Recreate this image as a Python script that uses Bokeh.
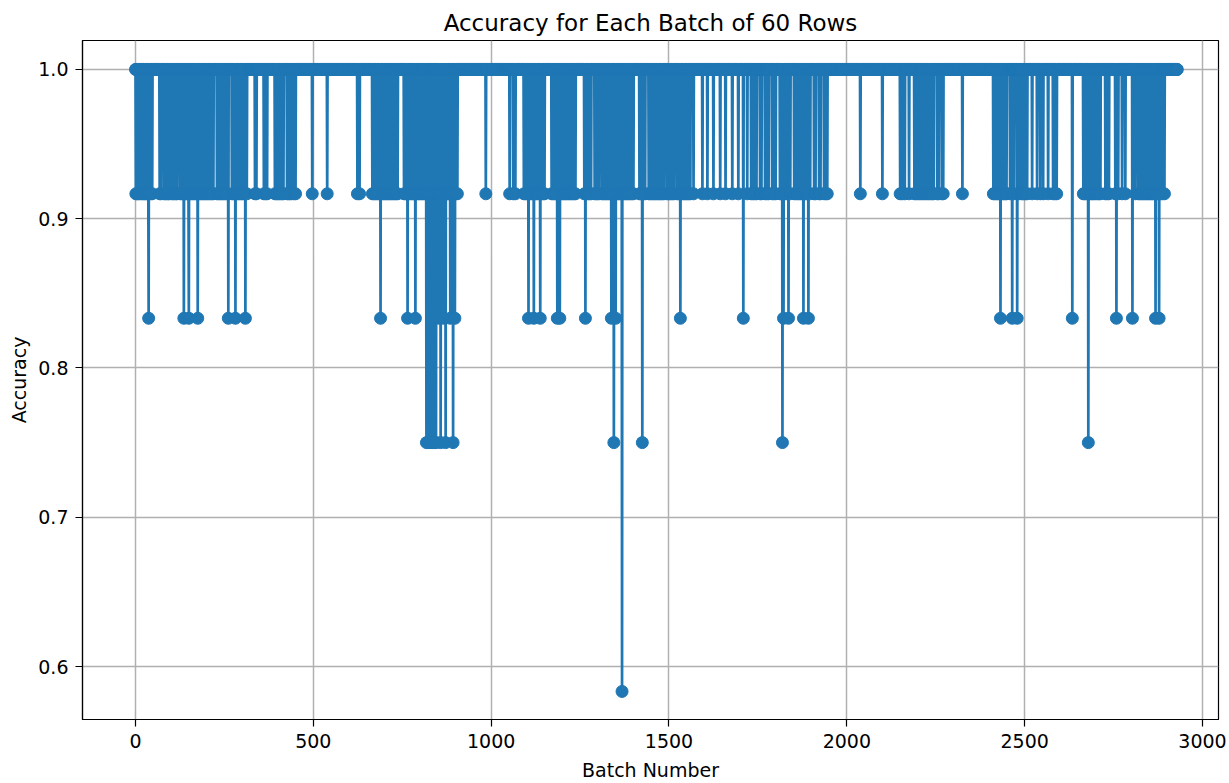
import numpy as np
from bokeh.plotting import figure
from bokeh.models import Range1d, FixedTicker, PrintfTickFormatter, ColumnDataSource
from bokeh.embed import file_html
from bokeh.resources import INLINE

# ---------------- data ----------------
n_batches = 2930
level_values = [0.9167, 0.8333, 0.75, 0.5833]

dips_0917 = [
    1, 4, 8, 11, 17, 21, 25, 28, 32, 36, 43, 47, 68, 72, 80, 84, 88, 92, 95, 102, 106, 110, 114, 117,
    125, 129, 133, 140, 143, 149, 153, 157, 161, 165, 169, 173, 179, 183, 187, 191, 195, 199, 203, 207, 211,
    215, 219, 229, 233, 237, 241, 245, 249, 253, 257, 271, 275, 279, 285, 289, 293, 297, 301, 305, 313,
    336, 340, 361, 366, 370, 392, 396, 400, 404, 408, 412, 416, 426, 430, 434, 438, 445, 450,
    497, 539, 624, 630, 666, 670, 674, 678, 682, 686, 693, 697, 701, 705, 709, 713, 717, 721, 725, 729,
    733, 737, 755, 759, 763, 769, 773, 777, 781, 784, 791, 795, 799, 803, 807, 811, 815, 820, 825, 831,
    837, 842, 848, 850, 855, 861, 863, 869, 875, 878, 882, 888, 890, 895, 900, 905,
    985, 1052, 1062, 1068, 1092, 1096, 1100, 1110, 1114, 1124, 1128, 1132, 1142, 1146, 1150, 1170, 1174,
    1178, 1182, 1197, 1201, 1205, 1209, 1213, 1217, 1221,
    1225, 1229, 1233, 1237, 1262, 1269, 1273, 1277, 1281, 1291, 1295, 1299, 1303, 1311, 1315, 1319, 1323,
    1327, 1331, 1335, 1342, 1355, 1359, 1363, 1372, 1376, 1380, 1384, 1388, 1392, 1396, 1400, 1417, 1421,
    1429, 1433, 1443, 1447, 1451, 1455, 1459, 1463, 1467, 1471, 1475,
    1478, 1482, 1486, 1494, 1498, 1502, 1506, 1510, 1514, 1522, 1526, 1530, 1536, 1540, 1544, 1548, 1552,
    1556, 1560, 1569, 1594, 1608, 1625, 1644, 1659, 1678, 1695, 1720,
    1731, 1736, 1741, 1746, 1756, 1760, 1770, 1775, 1780, 1790, 1795, 1800, 1812, 1816, 1826, 1831, 1841,
    1852, 1857, 1862, 1867, 1871, 1883, 1887, 1897, 1908, 1912, 1922, 1926, 1936, 1941, 1945,
    2038, 2100, 2150, 2156, 2163, 2175, 2190, 2195, 2200, 2205, 2210, 2215, 2220, 2225, 2230, 2235, 2240,
    2244, 2254, 2258, 2267, 2271, 2325,
    2412, 2416, 2420, 2424, 2428, 2437, 2441, 2445, 2449, 2459, 2470, 2484, 2491, 2495, 2499, 2503, 2507,
    2521, 2535, 2544, 2552, 2566, 2580, 2585, 2590,
    2665, 2669, 2673, 2683, 2687, 2691, 2695, 2700, 2705, 2709, 2713, 2727, 2732, 2737, 2755, 2763, 2774,
    2783, 2811, 2819, 2823, 2827, 2831, 2835, 2839, 2843, 2847, 2851, 2855, 2859, 2863, 2871, 2875, 2883,
    2887, 2893,
]
dips_0833 = [37, 136, 150, 175, 261, 281, 309, 689, 765, 787, 852, 866, 885, 898, 1105, 1120, 1138, 1186,
             1193, 1265, 1338, 1350, 1532, 1709, 1822, 1836, 1878, 1892, 2432, 2465, 2479, 2634, 2758, 2803,
             2868, 2878]
dips_0750 = [818, 823, 828, 834, 839, 845, 858, 872, 893, 1345, 1425, 1819, 2679]
dips_0583 = [1368]

x_ticks = [0, 500, 1000, 1500, 2000, 2500, 3000]
y_ticks = [0.6, 0.7, 0.8, 0.9, 1.0]

# ---------------- build the series ----------------
batch = np.arange(n_batches)
accuracy = np.ones(n_batches)
for dips, val in zip([dips_0917, dips_0833, dips_0750, dips_0583], level_values):
    accuracy[np.array(dips)] = val

src = ColumnDataSource(dict(x=batch, y=accuracy))

FONT = "DejaVu Sans"
p = figure(width=1229, height=783, output_backend="svg", toolbar_location=None,
           x_range=Range1d(-149, 3045), y_range=Range1d(0.5645, 1.0194),
           min_border_left=82, min_border_right=11, min_border_top=40, min_border_bottom=63,
           title="Accuracy for Each Batch of 60 Rows")

p.title.align = "center"
p.title.text_font = FONT
p.title.text_font_size = "23px"
p.title.text_font_style = "normal"
p.title.text_color = "black"

p.line("x", "y", source=src, line_color="#1f77b4", line_width=2.7)
p.scatter("x", "y", source=src, size=12, fill_color="#1f77b4", line_color="#1f77b4")

p.xaxis.ticker = FixedTicker(ticks=x_ticks)
p.yaxis.ticker = FixedTicker(ticks=y_ticks)
p.yaxis.formatter = PrintfTickFormatter(format="%.1f")
p.xaxis.axis_label = "Batch Number"
p.yaxis.axis_label = "Accuracy"

for ax in (p.xaxis, p.yaxis):
    ax.major_label_text_font = FONT
    ax.major_label_text_font_size = "19px"
    ax.major_label_text_color = "black"
    ax.axis_label_text_font = FONT
    ax.axis_label_text_font_size = "19px"
    ax.axis_label_text_font_style = "normal"
    ax.axis_label_text_color = "black"
    ax.axis_line_color = "black"
    ax.axis_line_width = 1.2
    ax.major_tick_line_color = "black"
    ax.major_tick_line_width = 1.2
    ax.major_tick_out = 7
    ax.major_tick_in = 0
    ax.minor_tick_line_color = None
    ax.major_label_standoff = 7

p.xaxis.axis_label_standoff = 8
p.yaxis.axis_label_standoff = 5

p.grid.grid_line_color = "#b0b0b0"
p.grid.grid_line_width = 1.5
p.outline_line_color = "black"
p.outline_line_alpha = 1
p.outline_line_width = 1.2
p.background_fill_color = "white"
p.border_fill_color = "white"

open("out.html", "w").write(file_html(p, INLINE))
